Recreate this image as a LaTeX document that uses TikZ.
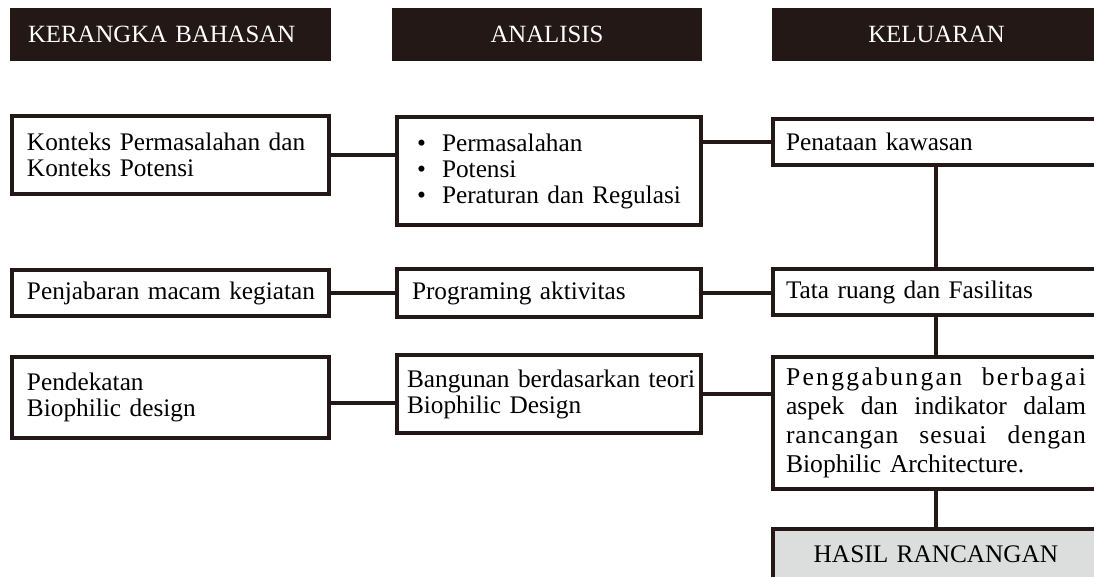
\documentclass[tikz,border=0pt]{standalone}
\usepackage{fontspec}
\setmainfont[WordSpace=0.8]{Liberation Serif}
\definecolor{ink}{RGB}{35,24,21}
\definecolor{hasilgray}{RGB}{220,221,221}

\begin{document}
\begin{tikzpicture}[x=1pt,y=-1pt,
    every node/.style={font=\fontsize{25.3}{26}\selectfont},
    head/.style={fill=ink,text=white,minimum height=53pt,inner sep=0pt,font=\fontsize{24.8}{26}\selectfont},
    box/.style={draw=ink,line width=4.2pt,fill=white,align=left,inner xsep=15pt,inner ysep=0pt},
    lcol/.style={box,text width=287pt},
    mcol/.style={box,text width=274pt},
    rcol/.style={box,text width=300pt,inner xsep=13pt},
    link/.style={draw=ink,line width=4.2pt}]
    \useasboundingbox (0,0) rectangle (1094,577);
    \clip (0,0) rectangle (1094,577);
    % headers
    \node[head,text width=285pt,inner xsep=18pt,align=left] (hkb) at (170.5,34.5) {KERANGKA BAHASAN};
    \node[head,minimum width=310pt] (han) at (547,34.5) {ANALISIS};
    \node[head,minimum width=329pt] (hkl) at (936.5,34.5) {KELUARAN};
    % kerangka bahasan
    \node[lcol,minimum height=78pt] (konteks) at (170.5,155) {\mbox{Konteks Permasalahan dan}\\Konteks Potensi};
    \node[lcol,minimum height=46pt] (jabar) at (170.5,293) {\mbox{Penjabaran macam kegiatan}};
    \node[lcol,minimum height=81pt] (dekat) at (170.5,397.5) {Pendekatan\\Biophilic design};
    % analisis
    \node[mcol,minimum height=108pt] (masalah) at (549,171)
        {\hspace*{5pt}\makebox[25pt][l]{\textbullet}Permasalahan\\
         \hspace*{5pt}\makebox[25pt][l]{\textbullet}Potensi\\
         \hspace*{5pt}\makebox[25pt][l]{\textbullet}\mbox{Peraturan dan Regulasi}};
    \node[mcol,minimum height=48pt] (program) at (549,293) {Programing aktivitas};
    \node[mcol,text width=284pt,inner xsep=10pt,minimum height=78pt] (teori) at (549,394) {\mbox{Bangunan berdasarkan teori}\\Biophilic Design};
    % keluaran
    \node[rcol,minimum height=46pt] (tata) at (936,142) {Penataan kawasan};
    \node[rcol,minimum height=46pt] (ruang) at (936,292) {Tata ruang dan Fasilitas};
    \node[rcol,minimum height=132pt,font=\fontsize{25.6}{29}\selectfont] (gabung) at (936,423)
        {\makebox[300pt][l]{\addfontfeature{LetterSpace=9}Penggabungan\hfill berbagai}\\
         \makebox[300pt][l]{aspek\hfill dan\hfill indikator\hfill dalam}\\
         \makebox[300pt][l]{\addfontfeature{LetterSpace=3.5}rancangan\hfill sesuai\hfill dengan}\\
         Biophilic Architecture.};
    \node[rcol,fill=hasilgray,align=center,minimum height=50pt] (hasil) at (936,554) {HASIL RANCANGAN};
    % connectors
    \coordinate (j3) at ([yshift=-5.5pt]dekat.east);
    \draw[link] (konteks.east) -- (konteks.east -| masalah.west);
    \draw[link] (tata.west -| masalah.east) -- (tata.west);
    \draw[link] (jabar.east) -- (jabar.east -| program.west);
    \draw[link] (program.east) -- (program.east -| ruang.west);
    \draw[link] (j3) -- (j3 -| teori.west);
    \draw[link] (teori.east) -- (teori.east -| gabung.west);
    \draw[link] (tata.south) -- (ruang.north);
    \draw[link] (ruang.south) -- (gabung.north);
    \draw[link] (gabung.south) -- (hasil.north);
\end{tikzpicture}
\end{document}
